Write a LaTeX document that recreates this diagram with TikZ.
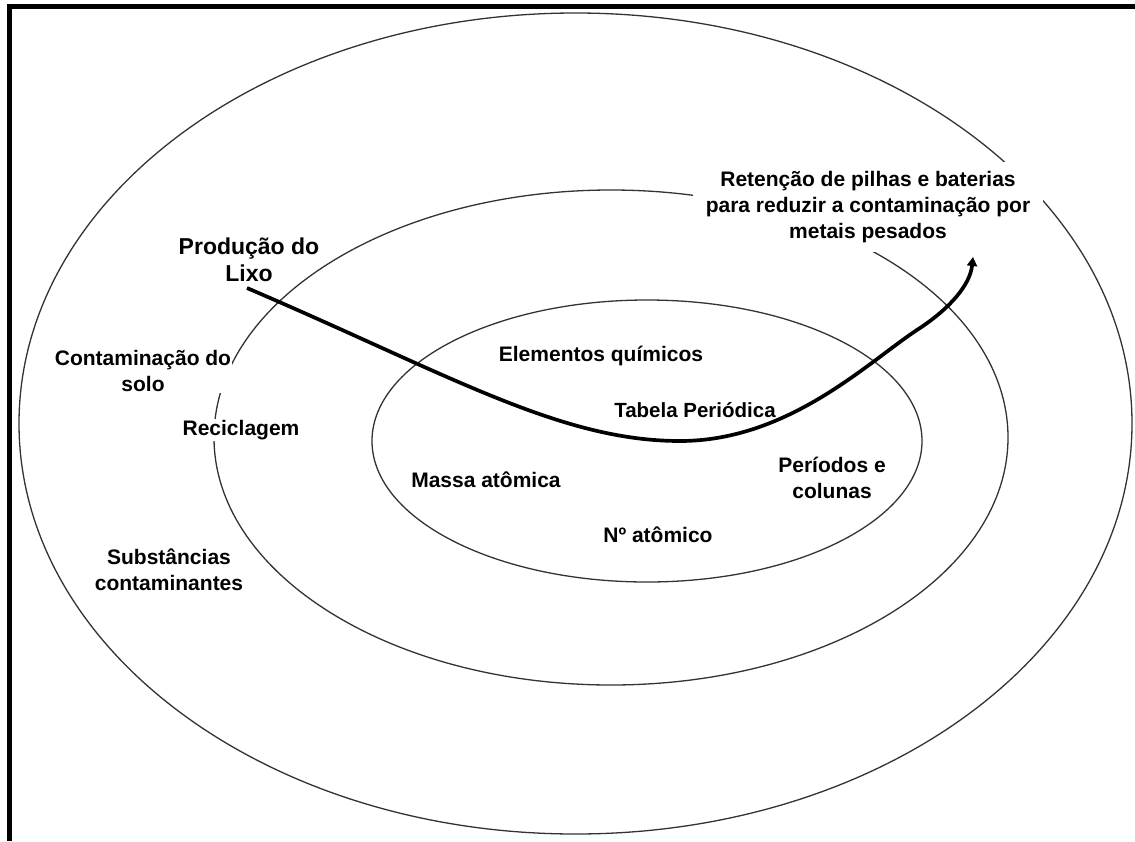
\documentclass[tikz,border=0pt]{standalone}
\usepackage{fontspec}
\setmainfont{Liberation Sans}
\usetikzlibrary{arrows.meta}
\begin{document}
\begin{tikzpicture}[x=1pt,y=-1pt,
  ring/.style={draw=black!80, line width=1.3pt},
  lbl/.style={font=\fontsize{21}{26}\selectfont\bfseries, align=center, inner sep=1pt},
  cover/.style={lbl, fill=white},
  flow/.style={line width=3.7pt, -{Triangle[length=9pt,width=10pt]}}]
\useasboundingbox (0,0) rectangle (1135,841);
\fill[white] (0,0) rectangle (1135,841);
% frame (top and left bars)
\fill[black] (7,4) rectangle (1135,9);
\fill[black] (7,4) rectangle (12,841);
% concentric rings
\draw[ring] (575.5,423.5) ellipse [x radius=556.5, y radius=410.5];
\draw[ring] (611,437.5) ellipse [x radius=397, y radius=247.5];
\draw[ring] (647,441) ellipse [x radius=275, y radius=141];
% labels
\node[cover, minimum width=350pt, minimum height=90pt] (ret) at (868,207)
  {Retenção de pilhas e baterias\\para reduzir a contaminação por\\metais pesados};
\node[lbl, font=\fontsize{23}{27}\selectfont\bfseries] (lixo) at (249,260) {Produção do\\Lixo};
\node[cover] (solo) at (143,371) {Contaminação do\\solo};
\node[cover] (recic) at (241,430) {Reciclagem};
\node[lbl] (subst) at (169,570) {Substâncias\\contaminantes};
\node[lbl] (elem) at (601,356) {Elementos químicos};
\node[lbl, font=\fontsize{20.5}{25}\selectfont\bfseries] (tab) at (695,410) {Tabela Periódica};
\node[lbl] (massa) at (486,480) {Massa atômica};
\node[lbl] (per) at (832,478) {Períodos e\\colunas};
\node[lbl] (num) at (658,535) {Nº atômico};
% flow arrow
\coordinate (a0) at (247,288);
\coordinate (a1) at (973,257);
\draw[flow] (a0) .. controls (450,375) and (560,441) .. (680,441)
  .. controls (790,441) and (870,360) .. (920,328)
  .. controls (950,308) and (970,285) .. (a1);
\end{tikzpicture}
\end{document}
